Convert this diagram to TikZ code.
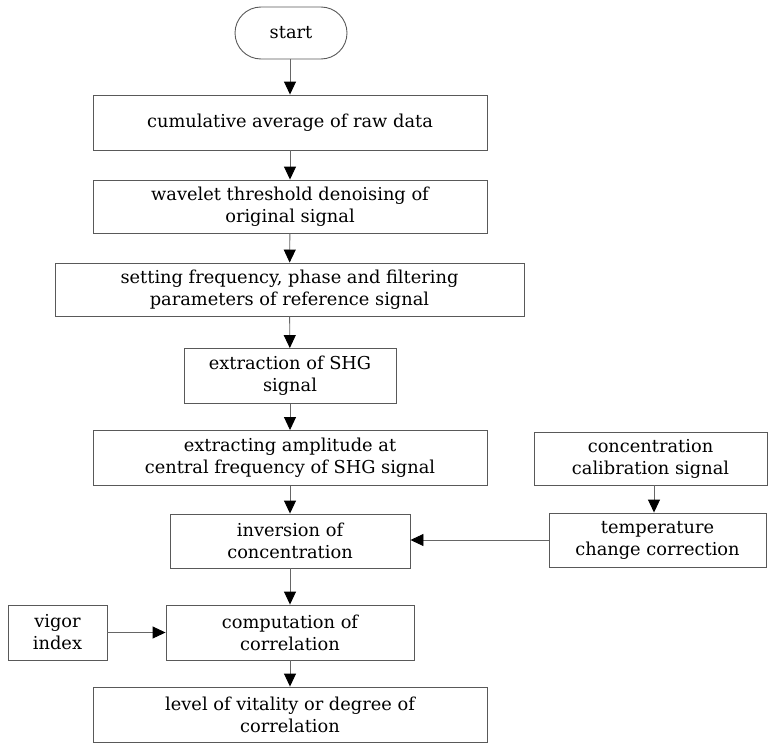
\documentclass[tikz,border=0pt]{standalone}
\usepackage{fontspec}
\setmainfont{DejaVu Serif}
\usetikzlibrary{arrows.meta}
\begin{document}
\begin{tikzpicture}[x=1pt,y=1pt,
  every node/.style={font=\fontsize{17.8}{22}\selectfont, align=center, inner sep=0pt},
  box/.style={draw=black!65, line width=0.9pt, rectangle},
  term/.style={draw=black!65, line width=0.9pt, rectangle, rounded corners=26pt},
  arr/.style={draw=black!60, line width=0.9pt, -{Triangle[width=12pt,length=13pt,color=black]}}]
\useasboundingbox (0,0) rectangle (768,-744);
\node[term, minimum width=112, minimum height=52] (start) at (291,-33) {start};
\node[box, minimum width=394, minimum height=55] (b1) at (290,-122.5) {cumulative average of raw data};
\node[box, minimum width=394, minimum height=53] (b2) at (290,-206.5) {wavelet threshold denoising of\\original signal};
\node[box, minimum width=469, minimum height=53] (b3) at (289.5,-289.5) {setting frequency, phase and filtering\\parameters of reference signal};
\node[box, minimum width=212, minimum height=55] (b4) at (290,-376) {extraction of SHG\\signal};
\node[box, minimum width=394, minimum height=55] (b5) at (290,-458) {extracting amplitude at\\central frequency of SHG signal};
\node[box, minimum width=233, minimum height=53] (b6) at (650.5,-458.5) {concentration\\calibration signal};
\node[box, minimum width=240, minimum height=54] (b7) at (290,-541) {inversion of\\concentration};
\node[box, minimum width=217, minimum height=54] (b8) at (657.5,-540) {temperature\\change correction};
\node[box, minimum width=99, minimum height=55] (vig) at (57.5,-632.5) {vigor\\index};
\node[box, minimum width=248, minimum height=55] (comp) at (290,-632.5) {computation of\\correlation};
\node[box, minimum width=394, minimum height=55] (lev) at (290,-714.5) {level of vitality or degree of\\correlation};
\coordinate (cx) at (654,0);
\draw[arr] (start.south -| b1.north) -- (b1.north);
\draw[arr] (b1) -- (b2);
\draw[arr] (b2) -- (b3);
\draw[arr] (b3) -- (b4);
\draw[arr] (b4) -- (b5);
\draw[arr] (b5) -- (b7);
\draw[arr] (b7) -- (comp);
\draw[arr] (comp) -- (lev);
\draw[arr] (b6.south -| cx) -- (b8.north -| cx);
\draw[arr] (b8.west) -- (b8.west -| b7.east);
\draw[arr] (vig.east) -- (comp.west);
\end{tikzpicture}
\end{document}
